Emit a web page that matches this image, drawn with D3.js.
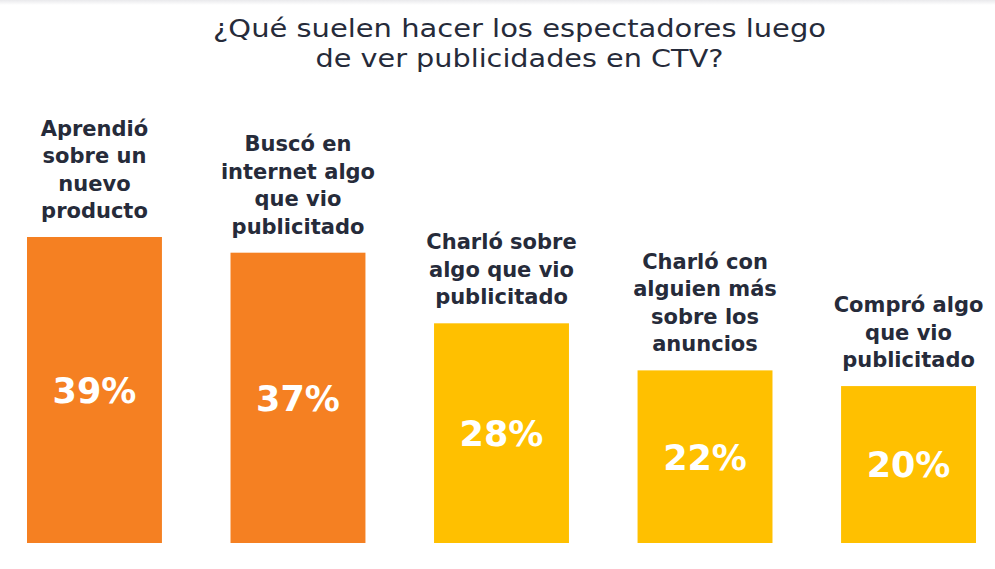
<!DOCTYPE html>
<html>
<head>
<meta charset="utf-8">
<script src="https://cdn.jsdelivr.net/npm/d3@7"></script>
<style>
  html, body { margin: 0; padding: 0; background: #ffffff; }
  svg { display: block; }
</style>
</head>
<body>
<svg id="chart" width="995" height="569"></svg>
<script>
const titleLines = ["¿Qué suelen hacer los espectadores luego", "de ver publicidades en CTV?"];
const categories = [
  ["Aprendió", "sobre un", "nuevo", "producto"],
  ["Buscó en", "internet algo", "que vio", "publicitado"],
  ["Charló sobre", "algo que vio", "publicitado"],
  ["Charló con", "alguien más", "sobre los", "anuncios"],
  ["Compró algo", "que vio", "publicitado"]
];
const values = [39, 37, 28, 22, 20];
const groups = ["top", "top", "other", "other", "other"];
const valueLabels = ["39%", "37%", "28%", "22%", "20%"];

const svg = d3.select("#chart");
const W = 995, H = 569;

// subtle top strip
const grad = svg.append("defs").append("linearGradient")
  .attr("id", "topfade").attr("x1", 0).attr("y1", 0).attr("x2", 0).attr("y2", 1);
grad.append("stop").attr("offset", "0%").attr("stop-color", "#e9e9ec");
grad.append("stop").attr("offset", "100%").attr("stop-color", "#ffffff");
svg.append("rect").attr("x", 0).attr("y", 0).attr("width", W).attr("height", 5).attr("fill", "url(#topfade)");

const x = d3.scaleBand()
  .domain(d3.range(values.length))
  .range([27, 976])
  .paddingInner(0.337)
  .paddingOuter(0);

const y = d3.scaleLinear().domain([0, 39]).range([543, 237]);

const color = d3.scaleOrdinal().domain(["top", "other"]).range(["#F58022", "#FFC000"]);

const textColor = "#262b3a";

// title
const titleWidths = [613, 408];
svg.selectAll("text.title")
  .data(titleLines)
  .join("text")
  .attr("class", "title")
  .attr("x", 519.5)
  .attr("y", (d, i) => 37 + i * 30)
  .attr("text-anchor", "middle")
  .attr("font-family", "'DejaVu Sans', sans-serif")
  .attr("font-size", 24)
  .attr("fill", textColor)
  .attr("textLength", (d, i) => titleWidths[i])
  .attr("lengthAdjust", "spacingAndGlyphs")
  .text(d => d);

const g = svg.append("g");

g.selectAll("rect.bar")
  .data(values)
  .join("rect")
  .attr("class", "bar")
  .attr("x", (d, i) => x(i))
  .attr("y", d => y(d))
  .attr("width", x.bandwidth())
  .attr("height", d => y(0) - y(d))
  .attr("fill", (d, i) => color(groups[i]));

// value labels
g.selectAll("text.val")
  .data(values)
  .join("text")
  .attr("class", "val")
  .attr("x", (d, i) => x(i) + x.bandwidth() / 2)
  .attr("y", d => (y(d) + y(0)) / 2)
  .attr("dy", "0.37em")
  .attr("text-anchor", "middle")
  .attr("font-family", "'DejaVu Sans', sans-serif")
  .attr("font-weight", 700)
  .attr("font-size", 35)
  .attr("fill", "#ffffff")
  .text((d, i) => valueLabels[i]);

// category labels
const lineH = 27.5;
g.selectAll("g.cat")
  .data(values)
  .join("g")
  .attr("class", "cat")
  .each(function(d, i) {
    const lines = categories[i];
    const base = y(d) - 19 - (lines.length - 1) * lineH;
    d3.select(this).selectAll("text")
      .data(lines)
      .join("text")
      .attr("x", x(i) + x.bandwidth() / 2)
      .attr("y", (l, j) => base + j * lineH)
      .attr("text-anchor", "middle")
      .attr("font-family", "'DejaVu Sans', sans-serif")
      .attr("font-weight", 700)
      .attr("font-size", 21)
      .attr("fill", textColor)
      .text(l => l);
  });
</script>
</body>
</html>
